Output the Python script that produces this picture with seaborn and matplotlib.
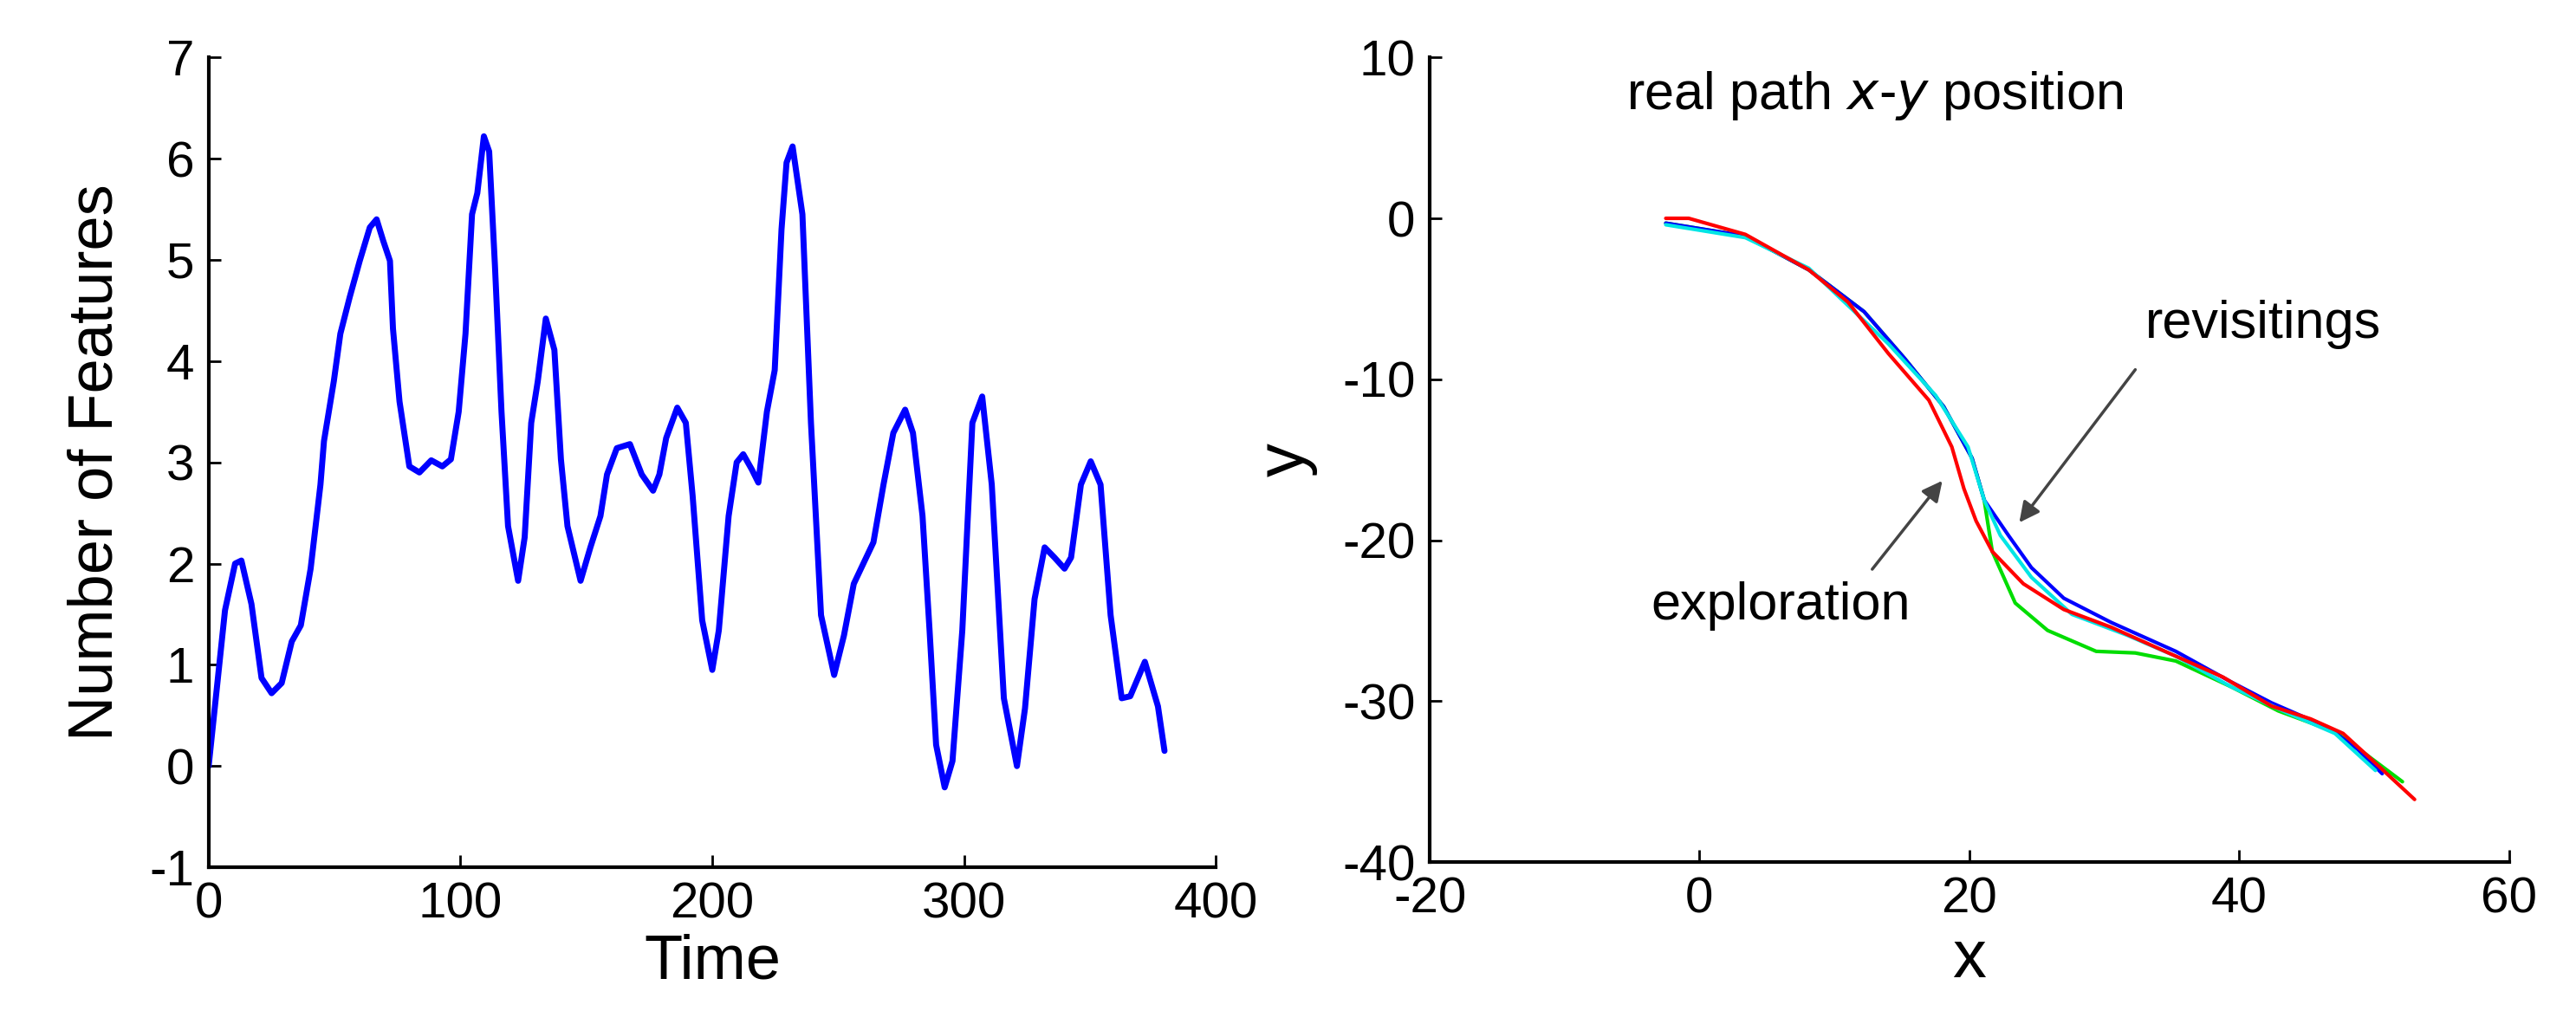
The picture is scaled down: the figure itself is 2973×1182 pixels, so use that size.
import matplotlib
matplotlib.use("Agg")
import matplotlib.pyplot as plt
import seaborn as sns

sns.set_style("white")
plt.rcParams['font.family'] = ['Liberation Sans', 'DejaVu Sans']
plt.rcParams['axes.unicode_minus'] = False
for k in ('text.color', 'axes.labelcolor', 'xtick.color', 'ytick.color'):
    plt.rcParams[k] = 'black'

time = [0,6.5,10.5,13,17,21,25,29,33,36.6,40.5,44.4,45.8,49.7,52.3,56,60,64,66.7,69.3,72,73.2,75.8,79.7,83.7,88.4,92.8,96.2,99.3,102,104.6,106.7,109.3,111.4,113.7,116.3,118.9,122.9,125.5,128.1,130.7,133.9,137.3,139.9,142.5,147.7,151.6,155.6,158.2,162.1,167.3,172,176.5,179,181.7,186.1,189.5,192.2,196,200,202.6,206.5,209.7,212.3,215.7,218.3,221.7,224.8,227.5,229.5,231.9,235.8,239.2,243.2,248.4,252.3,256.2,260,264,268,271.9,276.6,279.7,283.5,286.3,288.9,292.3,295.4,299.3,303.3,307.2,311,315.8,321,324.2,328,332,335.9,339.9,342.5,346.4,350.3,354.2,358.2,362.6,366,371.8,377,379.6]
features = [0,1.54,2.0,2.03,1.6,0.87,0.72,0.82,1.23,1.39,1.95,2.78,3.21,3.8,4.27,4.63,4.99,5.32,5.4,5.19,4.99,4.32,3.6,2.96,2.9,3.02,2.96,3.03,3.5,4.27,5.45,5.66,6.22,6.07,4.94,3.5,2.37,1.83,2.26,3.39,3.8,4.42,4.11,3.03,2.37,1.83,2.16,2.47,2.88,3.14,3.18,2.88,2.72,2.88,3.24,3.54,3.39,2.67,1.44,0.95,1.34,2.47,3.0,3.08,2.93,2.80,3.5,3.91,5.3,5.96,6.12,5.45,3.39,1.49,0.9,1.29,1.8,2.0,2.21,2.78,3.29,3.52,3.29,2.47,1.34,0.21,-0.21,0.05,1.34,3.39,3.65,2.78,0.67,0.0,0.57,1.65,2.16,2.06,1.95,2.06,2.78,3.01,2.78,1.49,0.67,0.69,1.03,0.59,0.15]

red_x = [-2.5,-0.8,3.4,8.1,11,14,17,18.7,19.6,20.5,21.7,24,27,30.5,35.3,38.8,42.4,45.3,47.7,49.4,53]
red_y = [0,0,-1,-3.2,-5.2,-8.4,-11.3,-14.2,-16.8,-18.8,-20.7,-22.7,-24.3,-25.4,-27.2,-28.5,-30.3,-31.1,-32,-33.3,-36.1]
green_x = [-2.5,3.4,8.1,12.2,15.2,18.1,20.2,21.1,21.7,23.4,25.8,29.4,32.3,35.3,39.4,42.9,47.1,49.4,52.1]
green_y = [-0.3,-1.1,-3.2,-5.8,-8.7,-11.7,-14.9,-17.5,-20.7,-23.9,-25.6,-26.9,-27,-27.5,-29.1,-30.6,-31.9,-33.3,-35]
blue_x = [-2.5,3.4,8.1,12.2,15.2,18.1,20.2,21.1,22.9,24.6,27,30.5,35.3,39.4,42.4,46.5,48.8,50.6]
blue_y = [-0.3,-1.1,-3.2,-5.8,-8.7,-11.7,-14.9,-17.5,-19.7,-21.7,-23.6,-25.1,-26.9,-28.8,-30.1,-31.6,-33,-34.5]
cyan_x = [-2.5,3.4,8.1,14,17.5,19.9,21.1,22.3,24.6,27.6,31.7,35.3,39.4,43.5,47.1,50.1]
cyan_y = [-0.4,-1.2,-3.1,-7.8,-11,-14.2,-17.5,-19.7,-22.3,-24.6,-25.9,-27.2,-29.1,-30.7,-32,-34.3]

fig = plt.figure(figsize=(29.73, 11.82), dpi=100)
ax1 = fig.add_axes([0.081, 0.153, 0.391, 0.791])
ax2 = fig.add_axes([0.555, 0.158, 0.419, 0.786])

sns.lineplot(x=time, y=features, ax=ax1, color='#0000ff', lw=5, sort=False)
ax1.set_xlim(0, 400); ax1.set_ylim(-1, 7)
ax1.set_xticks([0,100,200,300,400]); ax1.set_yticks(range(-1, 8))
ax1.set_xlabel("Time", fontsize=52, labelpad=4)
ax1.set_ylabel("Number of Features", fontsize=52, labelpad=20)

for xs, ys, c in [(green_x, green_y, '#00dd00'), (blue_x, blue_y, '#0000ff'),
                  (cyan_x, cyan_y, '#00e5e5'), (red_x, red_y, '#ff0000')]:
    sns.lineplot(x=xs, y=ys, ax=ax2, color=c, lw=3, sort=False)
ax2.set_xlim(-20, 60); ax2.set_ylim(-40, 10)
ax2.set_xticks([-20,0,20,40,60]); ax2.set_yticks([-40,-30,-20,-10,0,10])
ax2.set_xlabel("x", fontsize=56, labelpad=4)
ax2.set_ylabel("y", fontsize=56, labelpad=20)
ax2.text(13, 7.6, "real path $\\it{x}$-$\\it{y}$ position", fontsize=44, ha='center', va='center')
ax2.text(41.8, -6.6, "revisitings", fontsize=44, ha='center', va='center')
ax2.text(6, -24.1, "exploration", fontsize=44, ha='center', va='center')
arrow = dict(arrowstyle='-|>', color='#444444', lw=2.5, mutation_scale=35, shrinkA=0, shrinkB=0)
ax2.annotate("", xy=(23.7, -18.9), xytext=(32.3, -9.4), arrowprops=arrow)
ax2.annotate("", xy=(18, -16.3), xytext=(12.8, -21.8), arrowprops=arrow)

for ax in (ax1, ax2):
    sns.despine(ax=ax)
    for s in ('left', 'bottom'):
        ax.spines[s].set_linewidth(3); ax.spines[s].set_color('black')
    ax.tick_params(labelsize=42, direction='in', length=10, width=2, pad=12, left=True, bottom=True)

fig.savefig("out.png", dpi=100)
